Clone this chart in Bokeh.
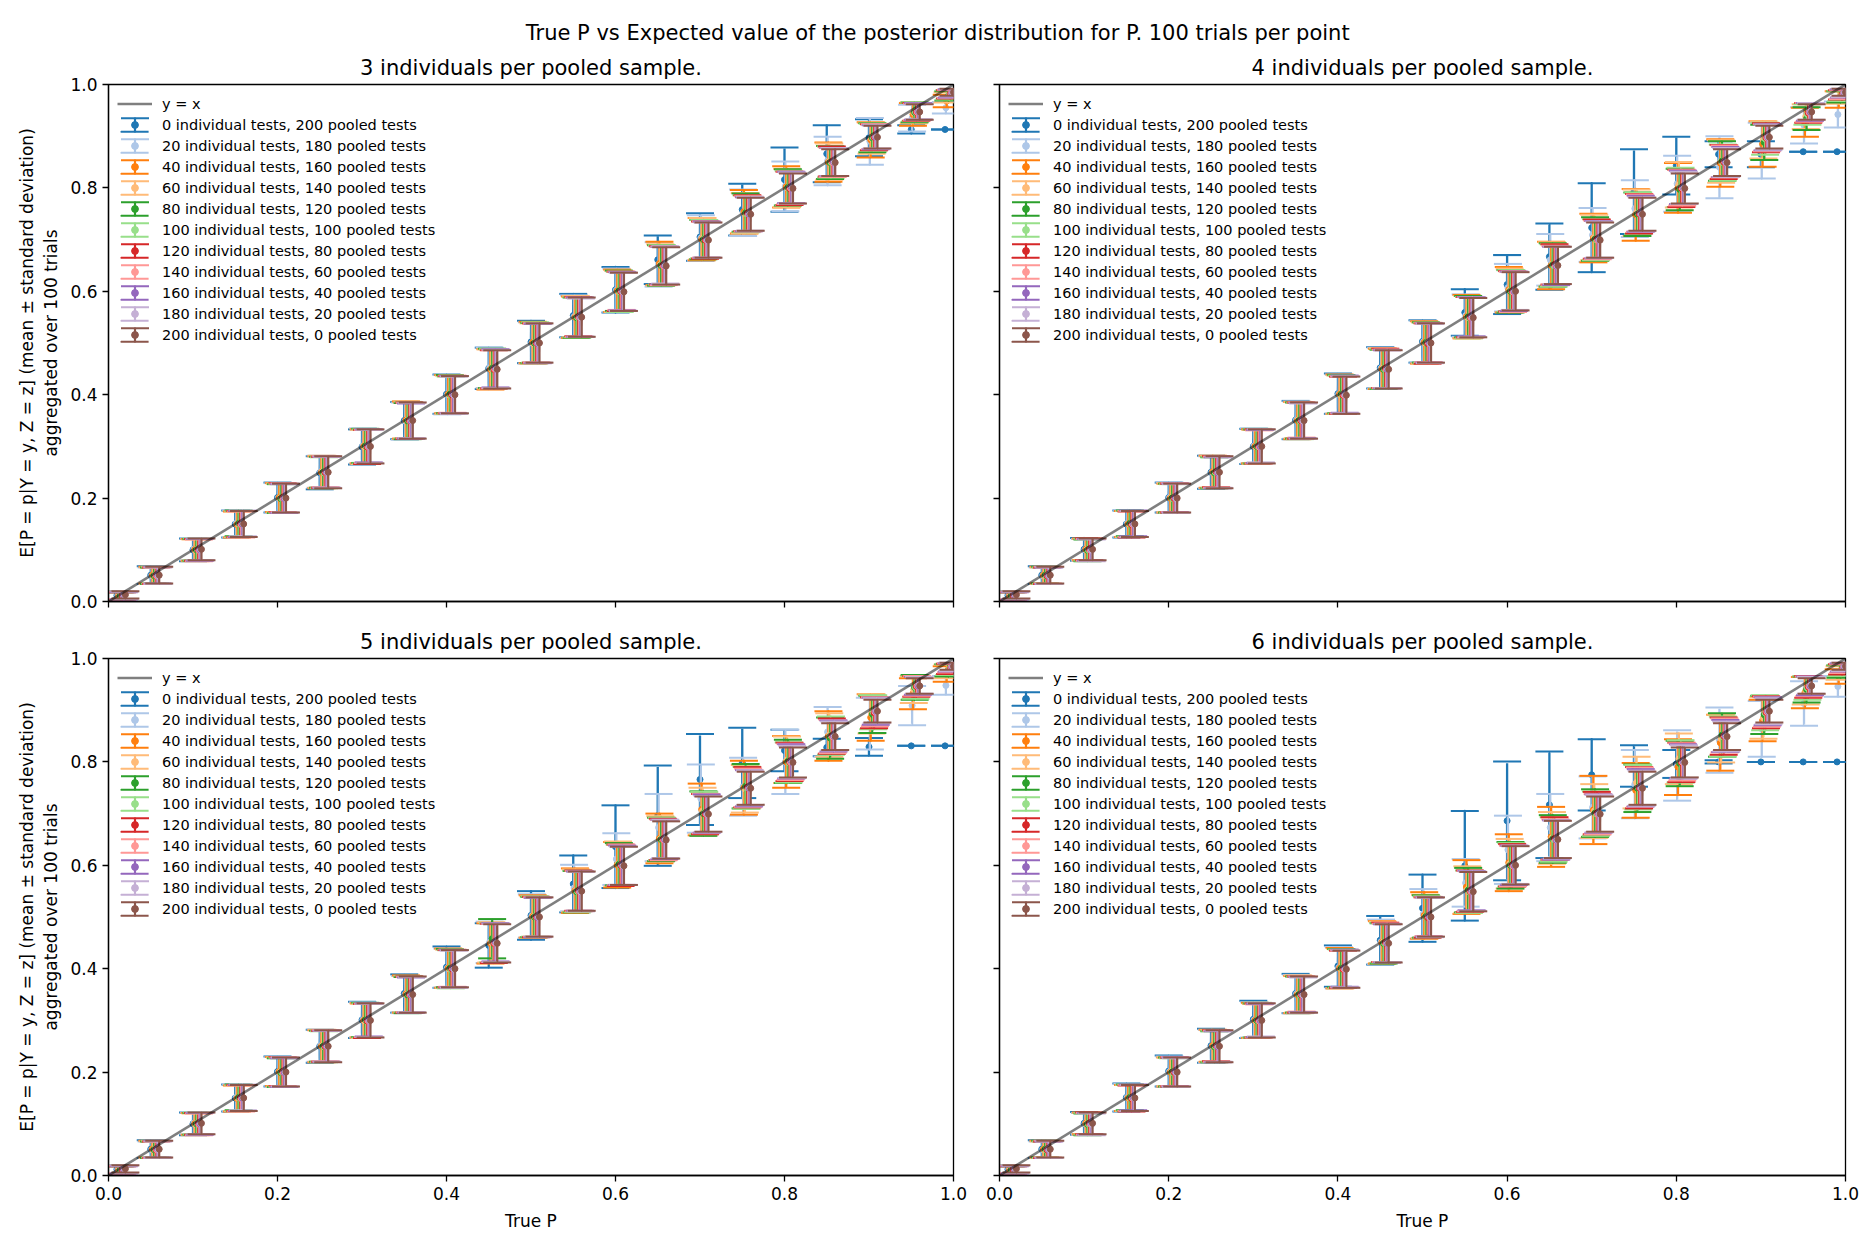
from bokeh.plotting import figure
from bokeh.models import (ColumnDataSource, Legend, LegendItem, Range1d, FixedTicker,
                          NumeralTickFormatter, CustomJSTickFormatter, Label)
from bokeh.layouts import column, gridplot
from bokeh.transform import dodge
from bokeh.embed import file_html
from bokeh.resources import INLINE

# ---------------- data ----------------
TRUE_P = [0.01, 0.05, 0.10, 0.15, 0.20, 0.25, 0.30, 0.35, 0.40, 0.45, 0.50,
          0.55, 0.60, 0.65, 0.70, 0.75, 0.80, 0.85, 0.90, 0.95, 0.99]
AXIS_LIMITS = [0.0, 1.0]
TICKS = [0.0, 0.2, 0.4, 0.6, 0.8, 1.0]
POOL_SIZES = [3, 4, 5, 6]
INDIVIDUAL_TESTS = [0, 20, 40, 60, 80, 100, 120, 140, 160, 180, 200]
POOLED_TESTS = [200, 180, 160, 140, 120, 100, 80, 60, 40, 20, 0]

MEAN_K3 = [
    [.012, .051, .100, .150, .201, .249, .299, .350, .401, .451, .502, .553, .603, .661, .705, .758, .816, .866, .897, .913, .913],
    [.012, .050, .101, .151, .200, .251, .301, .349, .400, .452, .500, .551, .602, .652, .703, .752, .803, .852, .890, .935, .955],
    [.011, .051, .100, .149, .201, .250, .300, .351, .401, .449, .501, .550, .601, .654, .701, .754, .802, .850, .893, .942, .968],
    [.012, .050, .099, .150, .200, .251, .299, .350, .400, .450, .499, .551, .600, .651, .702, .751, .800, .851, .896, .945, .975],
    [.011, .050, .100, .151, .199, .250, .301, .349, .401, .451, .500, .549, .601, .650, .700, .752, .801, .849, .897, .946, .978],
    [.012, .051, .101, .150, .200, .249, .300, .351, .399, .450, .501, .550, .599, .651, .701, .750, .800, .850, .898, .947, .980],
    [.011, .050, .100, .150, .201, .250, .299, .350, .400, .449, .500, .551, .600, .650, .699, .751, .799, .851, .898, .947, .981],
    [.012, .050, .099, .149, .200, .251, .300, .350, .401, .450, .500, .550, .601, .649, .700, .750, .800, .849, .899, .947, .982],
    [.011, .051, .100, .150, .199, .250, .301, .349, .400, .451, .499, .550, .600, .650, .700, .749, .801, .850, .898, .948, .983],
    [.012, .050, .101, .151, .200, .250, .300, .350, .399, .450, .500, .549, .599, .651, .699, .750, .800, .850, .899, .948, .984],
    [.013, .051, .101, .150, .200, .250, .300, .350, .400, .449, .500, .550, .599, .649, .699, .749, .799, .849, .898, .947, .985],
]
STD_K3 = [
    [.008, .017, .022, .026, .029, .032, .034, .036, .038, .040, .041, .042, .044, .047, .046, .050, .062, .055, .036, .008, .000],
    [.007, .016, .021, .026, .029, .031, .034, .036, .038, .039, .040, .041, .042, .043, .044, .045, .048, .047, .045, .026, .011],
    [.007, .016, .021, .025, .028, .031, .033, .036, .037, .039, .040, .040, .041, .042, .041, .042, .040, .038, .034, .022, .012],
    [.007, .016, .021, .025, .028, .031, .033, .035, .037, .038, .039, .040, .040, .040, .040, .039, .037, .035, .030, .020, .010],
    [.007, .016, .021, .025, .028, .030, .033, .035, .037, .038, .039, .039, .039, .039, .038, .037, .035, .032, .028, .019, .009],
    [.007, .016, .021, .025, .028, .030, .033, .035, .036, .038, .039, .039, .039, .038, .037, .036, .033, .030, .026, .018, .009],
    [.007, .016, .021, .025, .028, .030, .033, .035, .036, .037, .038, .038, .038, .037, .036, .035, .032, .029, .025, .017, .008],
    [.007, .016, .021, .025, .028, .030, .032, .034, .036, .037, .038, .038, .037, .037, .035, .034, .031, .028, .024, .016, .008],
    [.007, .016, .021, .025, .028, .030, .032, .034, .036, .037, .038, .038, .037, .036, .035, .033, .030, .027, .023, .016, .008],
    [.007, .016, .021, .025, .028, .030, .032, .034, .036, .037, .038, .037, .037, .036, .034, .033, .030, .027, .023, .015, .007],
    [.007, .016, .021, .025, .028, .031, .033, .035, .036, .037, .038, .038, .037, .036, .034, .032, .029, .026, .022, .015, .007],
]

MEAN_K4 = [
    [.012, .051, .101, .150, .201, .250, .300, .351, .402, .452, .503, .559, .613, .667, .723, .793, .843, .865, .865, .870, .870],
    [.012, .050, .100, .151, .201, .250, .301, .351, .401, .451, .502, .553, .607, .661, .709, .760, .808, .840, .872, .921, .942],
    [.011, .051, .101, .150, .200, .251, .300, .350, .401, .450, .501, .551, .603, .650, .703, .748, .800, .848, .885, .927, .971],
    [.012, .050, .100, .150, .201, .250, .299, .351, .400, .451, .500, .550, .602, .652, .704, .752, .806, .851, .893, .938, .975],
    [.011, .051, .099, .151, .200, .249, .300, .350, .401, .449, .501, .551, .600, .651, .701, .749, .797, .852, .888, .934, .976],
    [.012, .050, .100, .150, .199, .250, .301, .349, .400, .450, .500, .549, .601, .650, .700, .751, .801, .849, .895, .942, .978],
    [.011, .050, .101, .149, .200, .251, .300, .350, .399, .451, .499, .550, .600, .652, .701, .750, .799, .850, .897, .945, .980],
    [.012, .051, .100, .150, .201, .250, .299, .351, .400, .450, .501, .550, .599, .650, .699, .751, .800, .851, .897, .946, .981],
    [.011, .050, .100, .151, .200, .249, .300, .350, .401, .449, .500, .551, .600, .649, .700, .750, .801, .850, .898, .947, .983],
    [.012, .050, .099, .150, .199, .250, .301, .349, .400, .450, .499, .550, .601, .650, .700, .749, .800, .849, .898, .948, .984],
    [.013, .051, .101, .150, .200, .250, .300, .350, .399, .449, .500, .549, .600, .650, .699, .749, .799, .849, .898, .947, .985],
]
STD_K4 = [
    [.008, .017, .022, .026, .029, .032, .034, .037, .039, .040, .041, .045, .057, .064, .086, .082, .056, .025, .025, .000, .000],
    [.007, .016, .021, .026, .029, .031, .034, .036, .038, .040, .041, .041, .046, .050, .052, .055, .054, .060, .054, .035, .025],
    [.007, .016, .021, .025, .028, .031, .033, .036, .038, .039, .041, .042, .044, .046, .047, .050, .048, .046, .044, .028, .016],
    [.007, .016, .021, .025, .028, .031, .033, .035, .037, .039, .040, .041, .042, .043, .044, .045, .044, .041, .036, .024, .012],
    [.007, .016, .021, .025, .028, .030, .033, .035, .037, .038, .039, .040, .041, .042, .042, .042, .040, .038, .034, .022, .011],
    [.007, .016, .021, .025, .028, .030, .033, .035, .037, .038, .039, .040, .040, .041, .040, .040, .038, .035, .031, .020, .010],
    [.007, .016, .021, .025, .028, .030, .033, .035, .036, .038, .039, .039, .039, .039, .038, .038, .036, .033, .028, .019, .009],
    [.007, .016, .021, .025, .028, .030, .032, .034, .036, .037, .038, .039, .039, .038, .037, .036, .034, .031, .026, .018, .009],
    [.007, .016, .021, .025, .028, .030, .032, .034, .036, .037, .038, .038, .038, .037, .036, .035, .032, .029, .025, .017, .008],
    [.007, .016, .021, .025, .028, .030, .032, .034, .036, .037, .038, .038, .037, .036, .035, .033, .031, .028, .024, .016, .008],
    [.007, .016, .021, .025, .028, .031, .033, .035, .036, .037, .038, .038, .037, .036, .034, .032, .029, .026, .022, .015, .007],
]

MEAN_K5 = [
    [.012, .051, .100, .150, .201, .250, .301, .352, .403, .445, .503, .564, .636, .696, .766, .798, .822, .828, .829, .831, .831],
    [.012, .050, .101, .151, .200, .251, .301, .350, .401, .451, .502, .556, .612, .673, .729, .752, .800, .858, .874, .909, .948],
    [.011, .051, .100, .149, .201, .250, .300, .351, .401, .449, .501, .551, .601, .652, .708, .750, .800, .850, .886, .932, .970],
    [.012, .050, .099, .150, .200, .251, .299, .350, .400, .451, .500, .551, .603, .651, .705, .748, .804, .852, .893, .940, .975],
    [.011, .050, .100, .151, .199, .250, .301, .349, .401, .458, .500, .549, .602, .650, .700, .753, .801, .846, .892, .944, .977],
    [.012, .051, .101, .150, .200, .249, .300, .351, .399, .450, .501, .550, .600, .651, .701, .750, .799, .851, .896, .944, .979],
    [.011, .050, .100, .150, .201, .250, .299, .350, .400, .449, .500, .551, .600, .650, .699, .751, .800, .850, .895, .946, .980],
    [.012, .050, .099, .149, .200, .251, .300, .350, .401, .450, .500, .550, .601, .649, .700, .750, .800, .849, .897, .947, .982],
    [.011, .051, .100, .150, .199, .250, .301, .349, .400, .451, .499, .550, .600, .650, .700, .749, .801, .850, .898, .947, .983],
    [.012, .050, .101, .151, .200, .250, .300, .350, .399, .450, .500, .549, .599, .651, .699, .750, .800, .850, .899, .948, .984],
    [.013, .051, .101, .150, .200, .250, .300, .350, .400, .449, .500, .550, .599, .649, .699, .749, .799, .849, .898, .947, .985],
]
STD_K5 = [
    [.008, .017, .022, .026, .029, .032, .035, .037, .040, .043, .047, .055, .080, .097, .088, .068, .040, .017, .017, .000, .000],
    [.007, .016, .021, .026, .029, .031, .034, .036, .038, .040, .042, .045, .050, .065, .066, .056, .062, .048, .050, .038, .018],
    [.007, .016, .021, .025, .028, .031, .033, .036, .038, .039, .041, .043, .044, .048, .050, .052, .050, .048, .045, .030, .015],
    [.007, .016, .021, .025, .028, .031, .033, .035, .037, .039, .040, .041, .043, .044, .045, .046, .045, .042, .038, .026, .013],
    [.007, .016, .021, .025, .028, .030, .033, .035, .037, .038, .039, .040, .041, .042, .043, .043, .042, .040, .036, .024, .012],
    [.007, .016, .021, .025, .028, .030, .033, .035, .037, .038, .039, .040, .040, .041, .041, .041, .039, .037, .033, .022, .011],
    [.007, .016, .021, .025, .028, .030, .033, .035, .036, .038, .039, .039, .040, .040, .039, .039, .037, .034, .030, .020, .010],
    [.007, .016, .021, .025, .028, .030, .032, .034, .036, .037, .038, .039, .039, .039, .038, .037, .035, .032, .028, .019, .009],
    [.007, .016, .021, .025, .028, .030, .032, .034, .036, .037, .038, .038, .038, .038, .037, .035, .033, .030, .026, .017, .008],
    [.007, .016, .021, .025, .028, .030, .032, .034, .036, .037, .038, .038, .037, .037, .035, .034, .031, .028, .024, .016, .008],
    [.007, .016, .021, .025, .028, .031, .033, .035, .036, .037, .038, .038, .037, .036, .034, .032, .029, .026, .022, .015, .007],
]

MEAN_K6 = [
    [.012, .051, .101, .151, .202, .251, .302, .352, .405, .455, .517, .599, .686, .717, .775, .792, .796, .800, .800, .800, .800],
    [.012, .050, .100, .151, .201, .250, .301, .351, .402, .452, .506, .566, .630, .673, .712, .757, .793, .842, .864, .913, .946],
    [.011, .051, .101, .150, .200, .251, .300, .350, .401, .451, .503, .558, .605, .655, .707, .745, .790, .837, .880, .934, .965],
    [.012, .050, .100, .150, .201, .250, .299, .351, .400, .451, .501, .553, .603, .653, .705, .760, .806, .845, .885, .938, .972],
    [.011, .051, .099, .151, .200, .249, .300, .350, .401, .449, .501, .552, .600, .651, .701, .749, .797, .852, .891, .940, .975],
    [.012, .050, .100, .150, .199, .250, .301, .349, .400, .450, .500, .549, .601, .650, .700, .751, .801, .849, .895, .943, .977],
    [.011, .050, .101, .149, .200, .251, .300, .350, .399, .451, .499, .550, .600, .652, .701, .750, .799, .850, .896, .945, .979],
    [.012, .051, .100, .150, .201, .250, .299, .351, .400, .450, .501, .550, .599, .650, .699, .751, .800, .851, .897, .946, .981],
    [.011, .050, .100, .151, .200, .249, .300, .350, .401, .449, .500, .551, .600, .649, .700, .750, .801, .850, .898, .947, .983],
    [.012, .050, .099, .150, .199, .250, .301, .349, .400, .450, .499, .550, .601, .650, .700, .749, .800, .849, .898, .948, .984],
    [.013, .051, .101, .150, .200, .250, .300, .350, .399, .449, .500, .549, .600, .650, .699, .749, .799, .849, .898, .947, .985],
]
STD_K6 = [
    [.008, .017, .022, .027, .030, .033, .036, .038, .040, .047, .065, .106, .115, .103, .069, .040, .027, .003, .000, .000, .000],
    [.007, .016, .021, .026, .029, .032, .034, .037, .040, .043, .048, .046, .066, .065, .060, .066, .068, .063, .054, .043, .020],
    [.007, .016, .021, .025, .028, .031, .034, .036, .039, .041, .045, .052, .055, .058, .066, .053, .054, .054, .040, .030, .014],
    [.007, .016, .021, .025, .028, .031, .033, .036, .038, .040, .042, .045, .048, .050, .052, .050, .049, .046, .040, .027, .013],
    [.007, .016, .021, .025, .028, .030, .033, .035, .037, .039, .041, .043, .045, .046, .046, .046, .044, .042, .037, .025, .012],
    [.007, .016, .021, .025, .028, .030, .033, .035, .037, .038, .040, .041, .042, .043, .043, .043, .041, .039, .034, .023, .011],
    [.007, .016, .021, .025, .028, .030, .033, .035, .036, .038, .039, .040, .041, .041, .041, .040, .038, .036, .031, .021, .010],
    [.007, .016, .021, .025, .028, .030, .032, .034, .036, .037, .038, .039, .039, .039, .039, .038, .036, .033, .029, .019, .009],
    [.007, .016, .021, .025, .028, .030, .032, .034, .036, .037, .038, .038, .038, .038, .037, .036, .033, .031, .027, .018, .008],
    [.007, .016, .021, .025, .028, .030, .032, .034, .036, .037, .038, .038, .037, .037, .036, .034, .032, .029, .025, .016, .008],
    [.007, .016, .021, .025, .028, .031, .033, .035, .036, .037, .038, .038, .037, .036, .034, .032, .029, .026, .022, .015, .007],
]

PANEL_DATA = {3: (MEAN_K3, STD_K3), 4: (MEAN_K4, STD_K4), 5: (MEAN_K5, STD_K5), 6: (MEAN_K6, STD_K6)}

COLORS = ["#1f77b4", "#aec7e8", "#ff7f0e", "#ffbb78", "#2ca02c", "#98df8a",
          "#d62728", "#ff9896", "#9467bd", "#c5b0d5", "#8c564b"]

SUPTITLE = "True P vs Expected value of the posterior distribution for P. 100 trials per point"
YLABEL = "E[P = p|Y = y, Z = z] (mean \u00b1 standard deviation)\naggregated over 100 trials"
XLABEL = "True P"
FONT = "DejaVu Sans"

DODGE_STEP = 0.001


def make_panel(k, first_col, last_row):
    means, stds = PANEL_DATA[k]
    left = 108 if first_col else 23
    right = 23 if first_col else 22
    frame_w = 845 if first_col else 846
    top = 37
    bottom = 66 if last_row else 20
    p = figure(width=left + frame_w + right, height=top + 517 + bottom,
               x_range=Range1d(*AXIS_LIMITS), y_range=Range1d(*AXIS_LIMITS),
               min_border_left=left, min_border_right=right,
               min_border_top=top, min_border_bottom=bottom,
               title=f"{k} individuals per pooled sample.",
               output_backend="svg", toolbar_location=None)
    p.title.align = "center"
    p.title.text_font = FONT
    p.title.text_font_size = "21px"
    p.title.text_font_style = "normal"
    p.title.text_color = "black"
    p.title.standoff = 10

    p.grid.visible = False
    p.outline_line_color = "black"
    p.outline_line_width = 1.3
    p.outline_line_alpha = 1.0
    p.background_fill_color = "white"
    p.border_fill_color = "white"

    for ax in (p.xaxis[0], p.yaxis[0]):
        ax.ticker = FixedTicker(ticks=TICKS)
        ax.minor_tick_line_color = None
        ax.major_tick_in = 0
        ax.major_tick_out = 6
        ax.major_tick_line_color = "black"
        ax.major_tick_line_width = 1.3
        ax.axis_line_color = "black"
        ax.axis_line_width = 1.3
        ax.major_label_text_font = FONT
        ax.major_label_text_font_size = "17px"
        ax.major_label_text_color = "black"
        ax.major_label_standoff = 5
        ax.axis_label_text_font = FONT
        ax.axis_label_text_font_size = "17px"
        ax.axis_label_text_font_style = "normal"
        ax.axis_label_text_color = "black"

    if last_row:
        p.xaxis.formatter = NumeralTickFormatter(format="0.0")
        p.xaxis.axis_label = XLABEL
        p.xaxis.axis_label_standoff = 8
    else:
        p.xaxis.formatter = CustomJSTickFormatter(code="return ''")
        p.xaxis.major_label_standoff = 0
    if first_col:
        p.yaxis.formatter = NumeralTickFormatter(format="0.0")
        p.yaxis.axis_label = YLABEL
        p.yaxis.axis_label_standoff = 6
    else:
        p.yaxis.formatter = CustomJSTickFormatter(code="return ''")
        p.yaxis.major_label_standoff = 0

    items = []
    for j in range(len(INDIVIDUAL_TESTS)):
        c = COLORS[j]
        m = means[j]
        s = stds[j]
        src = ColumnDataSource(dict(
            p=TRUE_P, mean=m,
            lo=[a - b for a, b in zip(m, s)],
            hi=[a + b for a, b in zip(m, s)],
            span=[2 * b for b in s]))
        xo = dodge("p", DODGE_STEP * j, range=p.x_range)
        # legend-only proxy for the two caps (zero-size in the plot)
        caps = p.rect(x=xo, y="mean", width=0, height=0, source=src,
                      fill_color=None, line_color=c, line_width=2, line_dash="28 14")
        bar = p.ellipse(x=xo, y="mean", width=0.1, height="span", width_units="screen",
                        source=src, fill_color=None, line_color=c, line_width=2.3)
        p.scatter(x=xo, y="hi", marker="dash", size=28, source=src,
                  line_color=c, line_width=2)
        p.scatter(x=xo, y="lo", marker="dash", size=28, source=src,
                  line_color=c, line_width=2)
        dot = p.scatter(x=xo, y="mean", marker="circle", size=6, source=src,
                        fill_color=c, line_color=c)
        items.append(LegendItem(
            label=f"{INDIVIDUAL_TESTS[j]} individual tests, {POOLED_TESTS[j]} pooled tests",
            renderers=[caps, bar, dot]))

    diag = p.line(AXIS_LIMITS, AXIS_LIMITS, line_color="black", line_alpha=0.5, line_width=2.6)
    items.insert(0, LegendItem(label="y = x", renderers=[diag]))

    legend = Legend(items=items, location="top_left",
                    border_line_color=None, background_fill_alpha=0.0,
                    label_text_font=FONT, label_text_font_size="14.5px",
                    label_text_color="black",
                    glyph_width=35, glyph_height=17, label_height=21,
                    spacing=0, padding=11, margin=9, label_standoff=10)
    p.add_layout(legend)
    return p


head = figure(width=1867, height=47, x_range=Range1d(*AXIS_LIMITS),
              y_range=Range1d(*AXIS_LIMITS), min_border=0, toolbar_location=None,
              output_backend="svg", x_axis_location=None, y_axis_location=None,
              outline_line_color=None)
head.grid.visible = False
head.add_layout(Label(x=0.502, y=0.298, text=SUPTITLE, text_align="center",
                      text_baseline="middle", text_font=FONT,
                      text_font_size="21px", text_color="black"))

panels = [make_panel(3, True, False), make_panel(4, False, False),
          make_panel(5, True, True), make_panel(6, False, True)]
grid = gridplot([[panels[0], panels[1]], [panels[2], panels[3]]], toolbar_location=None)
page = column(head, grid)

open("out.html", "w").write(file_html(page, INLINE, title="posterior"))
